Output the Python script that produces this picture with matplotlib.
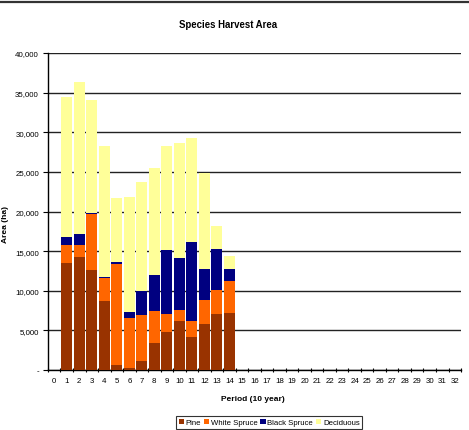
import matplotlib
matplotlib.use("Agg")
import matplotlib.pyplot as plt
from matplotlib.lines import Line2D
from matplotlib.ticker import FuncFormatter
import numpy as np

plt.rcParams['font.family'] = ['Liberation Sans', 'DejaVu Sans']

# harvest area (ha) by period, periods 1-14
periods = list(range(1, 15))
pine = [13540, 14260, 12620, 8750, 670, 290, 1140, 3410, 4800, 6180, 4160, 5810, 7070, 7190]
white_spruce = [2270, 1550, 7070, 2860, 12710, 6270, 5800, 4040, 2270, 1390, 2020, 3020, 3030, 4040]
black_spruce = [1010, 1350, 60, 130, 250, 760, 3030, 4540, 8070, 6560, 9970, 3920, 5170, 1520]
deciduous = [17670, 19190, 14320, 16530, 8080, 14510, 13760, 13500, 13130, 14520, 13130, 12110, 2900, 1640]

# axis shows periods 0..32
categories = list(range(0, 33))

species = ["Pine", "White Spruce", "Black Spruce", "Deciduous"]
colors = ["#993300", "#FF6600", "#000080", "#FFFF99"]

fig = plt.figure(figsize=(4.69, 4.31), dpi=100)
ax = fig.add_axes([0.1023, 0.1392, 0.8807, 0.7355])

bottom = np.zeros(len(periods))
for vals, name, col in zip([pine, white_spruce, black_spruce, deciduous], species, colors):
    ax.bar(periods, vals, width=0.88, bottom=bottom, color=col, label=name,
           linewidth=0, zorder=3)
    bottom += np.array(vals)

ax.set_xlim(-0.5, 32.5)
ax.set_ylim(0, 40000)
ax.set_yticks(np.arange(0, 40001, 5000))
ax.yaxis.set_major_formatter(FuncFormatter(lambda v, p: "-" if v == 0 else f"{int(v):,}"))
ax.set_xticks(categories)
ax.set_xticks(np.arange(-0.5, 33, 1), minor=True)
ax.tick_params(axis='x', which='major', length=0, labelsize=5.7, pad=5)
ax.tick_params(axis='x', which='minor', length=3, width=0.8, direction='inout')
ax.tick_params(axis='y', length=3.5, width=0.8, labelsize=5.7, pad=3)

ax.grid(axis='y', color='#222222', linewidth=1.0, zorder=1)
ax.set_axisbelow(True)
for s in ['top', 'right']:
    ax.spines[s].set_visible(False)
ax.spines['left'].set_linewidth(1.0)
ax.spines['bottom'].set_linewidth(1.0)

fig.text(0.486, 0.943, "Species Harvest Area", ha='center', va='center',
         fontsize=6.9, fontweight='bold')
fig.text(0.54, 0.074, "Period (10 year)", ha='center', va='center',
         fontsize=6, fontweight='bold')
fig.text(0.011, 0.478, "Area (ha)", ha='center', va='center', rotation=90,
         fontsize=6, fontweight='bold')

leg = fig.legend(loc='center', bbox_to_anchor=(0.574, 0.0174), ncol=4,
                 fontsize=5.6, frameon=True, fancybox=False, handlelength=0.7,
                 handleheight=0.7, handletextpad=0.2, columnspacing=0.35,
                 borderpad=0.3, borderaxespad=0)
leg.get_frame().set_edgecolor('black')
leg.get_frame().set_linewidth(0.8)

# border line across the top of the chart area
fig.add_artist(Line2D([0, 1], [0.994, 0.994], color='#333333', linewidth=1.6,
                      transform=fig.transFigure))

fig.savefig("out.png", dpi=100)
